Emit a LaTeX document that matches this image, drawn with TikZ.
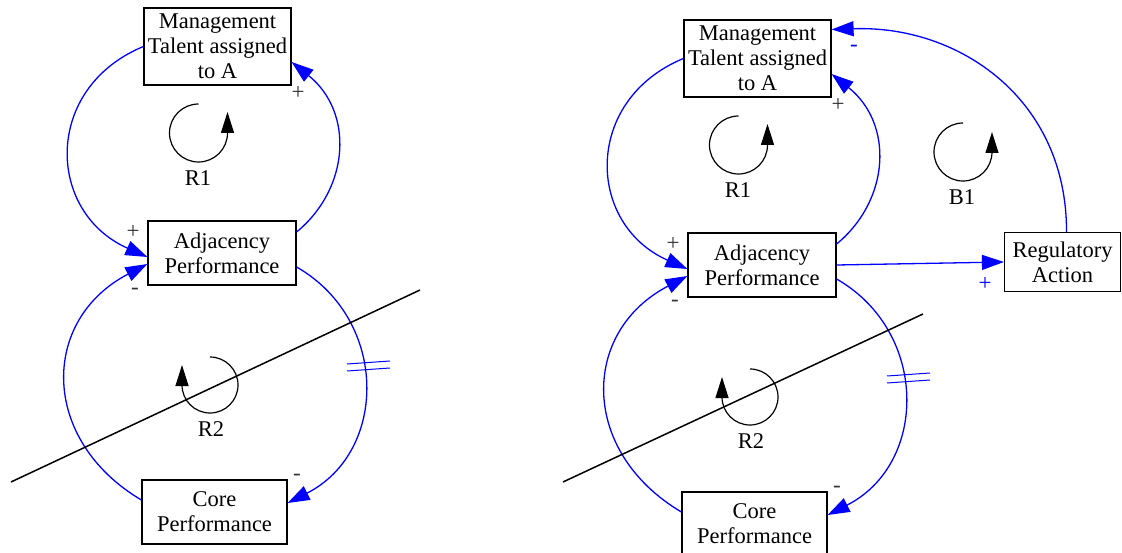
\documentclass[tikz,border=0pt]{standalone}
\usepackage{fontspec}
\setmainfont{Liberation Serif}
\usetikzlibrary{arrows.meta}
\begin{document}
\begin{tikzpicture}[x=1pt,y=-1pt,
  var/.style={draw,line width=1.2pt,align=center,inner sep=2pt,font=\fontsize{22.5}{25}\selectfont},
  link/.style={blue,line width=1.3pt,-{Triangle[length=22pt,width=15pt]}},
  pol/.style={text=black!80,font=\fontsize{23}{23}\selectfont},
  loopsym/.style={line width=1.2pt,-{Triangle[length=21pt,width=13pt]}},
  looplbl/.style={font=\fontsize{22.5}{25}\selectfont}]
  \useasboundingbox (0,0) rectangle (1122,553);
  % Left: the two reinforcing loops
  \begin{scope}
    \node[var,minimum width=147pt,minimum height=77pt] (mgmtL) at (217.5,46.5) {Management\\Talent assigned\\to A};
    \node[var,minimum width=148pt,minimum height=64pt] (adjL) at (222,253) {Adjacency\\Performance};
    \node[var,minimum width=145pt,minimum height=64pt] (coreL) at (214.5,512) {Core\\Performance};
    \draw[link] (mgmtL.west) .. controls (43,88) and (46,212) .. ([yshift=-4pt]adjL.west);
    \draw[link] ([yshift=21pt]adjL.east) .. controls (350,188) and (354,112) .. ([yshift=-15.5pt]mgmtL.east);
    \draw[link] ([yshift=-14pt]adjL.east) .. controls (389,320) and (388,452) .. ([yshift=9pt]coreL.east);
    \draw[link] ([yshift=12pt]coreL.west) .. controls (40,440) and (40,320) .. ([yshift=-11pt]adjL.west);
    % delay mark
    \draw[blue,line width=1pt] (347,364) -- (390,361) (347,371) -- (390,368);
    % polarities
    \node[pol] (sL1) at (133,232) {+};
    \node[pol] (sL2) at (298,93) {+};
    \node[pol] (sL3) at (297,477) {-};
    \node[pol] (sL4) at (135,291) {-};
    % loop markers
    \draw[loopsym] (198.5,104) arc[start angle=270, end angle=0, radius=29] -- ++(0,-21);
    \node[looplbl] (r1L) at (198,178) {R1};
    \draw[loopsym] (210,357) arc[start angle=-90, end angle=180, radius=28] -- ++(0,-20);
    \node[looplbl] (r2L) at (211,429) {R2};
    % cut line
    \draw[line width=1.5pt] (11,482) -- (420,290);
  \end{scope}
  % Right: same loops plus regulation
  \begin{scope}[xshift=540pt,yshift=-12pt]
    \node[var,minimum width=147pt,minimum height=77pt] (mgmtR) at (217.5,46.5) {Management\\Talent assigned\\to A};
    \node[var,minimum width=148pt,minimum height=64pt] (adjR) at (222,253) {Adjacency\\Performance};
    \node[var,minimum width=145pt,minimum height=64pt] (coreR) at (214.5,512) {Core\\Performance};
    \node[var,minimum width=116pt,minimum height=59pt] (reg) at (522.5,250) {Regulatory\\Action};
    \draw[link] (mgmtR.west) .. controls (43,88) and (46,212) .. ([yshift=-4pt]adjR.west);
    \draw[link] ([yshift=21pt]adjR.east) .. controls (350,188) and (354,112) .. ([yshift=-15.5pt]mgmtR.east);
    \draw[link] ([yshift=-14pt]adjR.east) .. controls (389,320) and (388,452) .. ([yshift=9pt]coreR.east);
    \draw[link] ([yshift=12pt]coreR.west) .. controls (40,440) and (40,320) .. ([yshift=-11pt]adjR.west);
    \draw[link] (adjR.east) -- (reg.west);
    \draw[link] ([xshift=4pt]reg.north) .. controls (527,88) and (420,13) .. ([yshift=29pt]mgmtR.east);
    % delay mark
    \draw[blue,line width=1pt] (347,364) -- (390,361) (347,371) -- (390,368);
    % polarities
    \node[pol] (sR1) at (133,232) {+};
    \node[pol] (sR2) at (298,93) {+};
    \node[pol] (sR3) at (297,477) {-};
    \node[pol] (sR4) at (135,291) {-};
    \node[pol,text=blue] (sR5) at (445,272) {+};
    \node[pol,text=blue] (sR6) at (314,36) {-};
    % loop markers
    \draw[loopsym] (198.5,104) arc[start angle=270, end angle=0, radius=29] -- ++(0,-21);
    \node[looplbl] (r1R) at (198,178) {R1};
    \draw[loopsym] (423,111) arc[start angle=270, end angle=0, radius=29] -- ++(0,-20);
    \node[looplbl] (b1) at (422,185) {B1};
    \draw[loopsym] (210,357) arc[start angle=-90, end angle=180, radius=28] -- ++(0,-20);
    \node[looplbl] (r2R) at (211,429) {R2};
    % cut line
    \draw[line width=1.5pt] (23,470) -- (383,302);
  \end{scope}
\end{tikzpicture}
\end{document}
